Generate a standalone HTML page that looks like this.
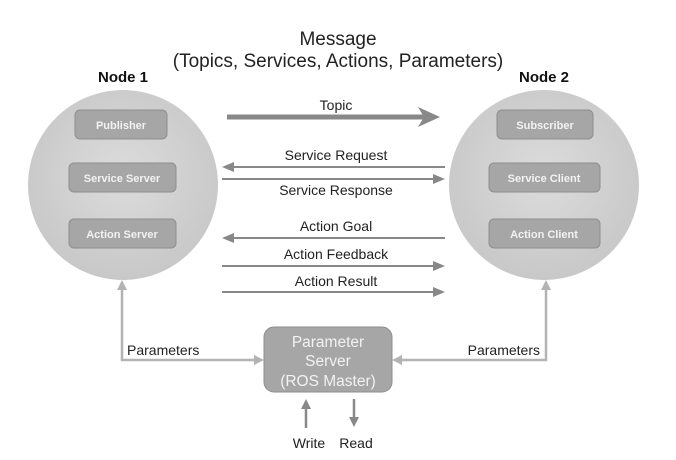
<!DOCTYPE html>
<html><head><meta charset="utf-8"><style>
html,body{margin:0;padding:0;background:#fff;}
svg{display:block;font-family:"Liberation Sans","DejaVu Sans",sans-serif;}
</style></head><body>
<svg width="676" height="460" viewBox="0 0 676 460" xmlns="http://www.w3.org/2000/svg">
<defs>
<radialGradient id="g" cx="50%" cy="45%" r="55%">
<stop offset="0" stop-color="#dcdcdc"/><stop offset="1" stop-color="#c8c8c8"/>
</radialGradient>
</defs>
<text x="338" y="45" text-anchor="middle" font-size="19" fill="#222">Message</text>
<text x="338" y="67" text-anchor="middle" font-size="19" fill="#222">(Topics, Services, Actions, Parameters)</text>
<text x="123" y="82" text-anchor="middle" font-size="15" font-weight="bold" fill="#111">Node 1</text>
<text x="544" y="82" text-anchor="middle" font-size="15" font-weight="bold" fill="#111">Node 2</text>

<circle cx="123" cy="185" r="95" fill="url(#g)"/>
<circle cx="544" cy="185" r="95" fill="url(#g)"/>

<g fill="#a6a6a6" stroke="#8e8e8e" stroke-width="1">
<rect x="75" y="110" width="92" height="29" rx="5"/>
<rect x="69" y="163" width="107" height="29" rx="5"/>
<rect x="69" y="219" width="107" height="29" rx="5"/>
<rect x="497" y="110" width="96" height="29" rx="5"/>
<rect x="489" y="163" width="111" height="29" rx="5"/>
<rect x="489" y="219" width="111" height="29" rx="5"/>
</g>
<g fill="#f2f2f2" font-size="11" font-weight="bold" text-anchor="middle">
<text x="121" y="129">Publisher</text>
<text x="122" y="182">Service Server</text>
<text x="122" y="238">Action Server</text>
<text x="545" y="129">Subscriber</text>
<text x="544" y="182">Service Client</text>
<text x="544" y="238">Action Client</text>
</g>

<g stroke="#888" fill="#888">
<line x1="227" y1="117" x2="425" y2="117" stroke-width="5"/>
<polygon points="440,117 418,107 424,117 418,127" stroke="none"/>
<line x1="232" y1="167" x2="445" y2="167" stroke-width="2"/>
<polygon points="222,167 234,162 234,172" stroke="none"/>
<line x1="222" y1="179" x2="435" y2="179" stroke-width="2"/>
<polygon points="445,179 433,174 433,184" stroke="none"/>
<line x1="232" y1="238" x2="445" y2="238" stroke-width="2"/>
<polygon points="222,238 234,233 234,243" stroke="none"/>
<line x1="222" y1="266" x2="435" y2="266" stroke-width="2"/>
<polygon points="445,266 433,261 433,271" stroke="none"/>
<line x1="222" y1="292" x2="435" y2="292" stroke-width="2"/>
<polygon points="445,292 433,287 433,297" stroke="none"/>
</g>
<g font-size="14" fill="#222" text-anchor="middle">
<text x="336" y="110">Topic</text>
<text x="336" y="160">Service Request</text>
<text x="336" y="195">Service Response</text>
<text x="336" y="231">Action Goal</text>
<text x="336" y="259">Action Feedback</text>
<text x="336" y="286">Action Result</text>
</g>

<g stroke="#b3b3b3" fill="#b3b3b3" stroke-width="2.5">
<polyline points="122,290 122,360 256,360" fill="none"/>
<polygon points="122,280 117,290 127,290" stroke="none"/>
<polygon points="264,360 254,355 254,365" stroke="none"/>
<polyline points="546,290 546,360 400,360" fill="none"/>
<polygon points="546,280 541,290 551,290" stroke="none"/>
<polygon points="392,360 402,355 402,365" stroke="none"/>
</g>
<text x="127" y="355" font-size="14" fill="#222">Parameters</text>
<text x="540" y="355" font-size="14" fill="#222" text-anchor="end">Parameters</text>

<rect x="264" y="327" width="128" height="65" rx="10" fill="#a6a6a6" stroke="#8e8e8e"/>
<g font-size="15.5" fill="#f2f2f2" text-anchor="middle">
<text x="328" y="347">Parameter</text>
<text x="328" y="366">Server</text>
<text x="328" y="386">(ROS Master)</text>
</g>

<g stroke="#888" fill="#888" stroke-width="2.5">
<line x1="306" y1="428" x2="306" y2="408"/>
<polygon points="306,399 301,409 311,409" stroke="none"/>
<line x1="354" y1="399" x2="354" y2="418"/>
<polygon points="354,427 349,417 359,417" stroke="none"/>
</g>
<text x="309" y="448" font-size="14" fill="#222" text-anchor="middle">Write</text>
<text x="356" y="448" font-size="14" fill="#222" text-anchor="middle">Read</text>
</svg>
</body></html>
